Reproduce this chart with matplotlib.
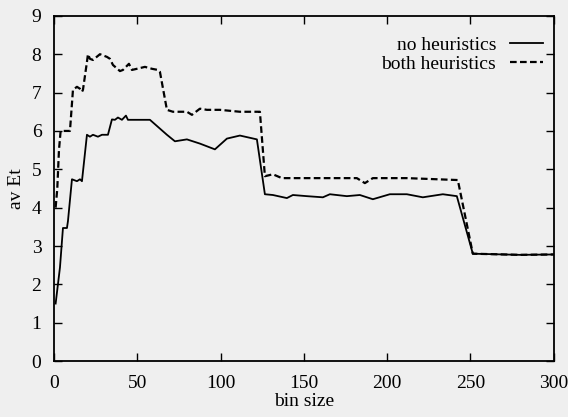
import matplotlib
matplotlib.use('Agg')
import matplotlib.pyplot as plt

# no heuristics (solid)
x_none = [1, 3.6, 5.4, 7.8, 8.4, 10.8, 13.8, 15.6, 16.8, 19.8, 21.6, 23.4, 26.4, 28.8, 32.4,
          34.8, 36.6, 38.4, 40.8, 43.2, 44.4, 49.8, 57.6, 67.8, 72.6, 79.8, 87.6, 96.6, 103.8,
          111.6, 121.8, 126.6, 131.4, 139.8, 143.4, 151.8, 161.4, 165.6, 175.8, 183.6, 191.4,
          201.6, 211.8, 221.4, 233.4, 241.8, 251.4, 279.6, 300]
y_none = [1.5, 2.44, 3.47, 3.47, 3.65, 4.74, 4.69, 4.74, 4.69, 5.9, 5.85, 5.9, 5.85, 5.9, 5.9,
          6.3, 6.29, 6.35, 6.29, 6.4, 6.29, 6.29, 6.29, 5.9, 5.73, 5.78, 5.67, 5.52, 5.8,
          5.88, 5.78, 4.35, 4.33, 4.25, 4.33, 4.3, 4.27, 4.35, 4.3, 4.33, 4.22,
          4.35, 4.35, 4.27, 4.35, 4.3, 2.8, 2.77, 2.78]

# both heuristics (dashed)
x_both = [1, 2, 3, 4, 9.6, 11.4, 13.8, 15.6, 16.8, 17.4, 19.8, 20.4, 21.6, 23.4, 27.6, 31.8,
          33.6, 35.4, 39.6, 41.4, 43.2, 45, 46.8, 49.8, 54.6, 58.8, 62.4, 63.6, 67.8, 71.4,
          79.8, 82.8, 87.6, 91.8, 99.6, 111.6, 123.6, 126.6, 131.4, 136.8, 159.6, 181.8,
          186.6, 191.4, 211.8, 242.4, 251.4, 279.6, 300]
y_both = [4.0, 4.5, 5.5, 6.0, 6.0, 7.07, 7.15, 7.1, 7.02, 7.07, 7.8, 8.0, 7.88, 7.85, 8.0, 7.93,
          7.88, 7.72, 7.56, 7.59, 7.67, 7.75, 7.59, 7.62, 7.67, 7.62, 7.59, 7.54, 6.55, 6.5,
          6.5, 6.42, 6.58, 6.55, 6.55, 6.5, 6.5, 4.82, 4.87, 4.77, 4.77, 4.77,
          4.64, 4.77, 4.77, 4.72, 2.8, 2.77, 2.78]

x_ticks = [0, 50, 100, 150, 200, 250, 300]
y_ticks = list(range(10))

plt.rcParams['font.family'] = ['Liberation Serif', 'DejaVu Serif']
plt.rcParams['font.size'] = 14

bg = '#efefef'
fig = plt.figure(figsize=(5.68, 4.17), dpi=100, facecolor=bg)
ax = fig.add_axes([0.095, 0.134, 0.88, 0.828], facecolor=bg)

ax.plot(x_none, y_none, color='black', linewidth=1.3, label='no heuristics')
ax.plot(x_both, y_both, color='black', linewidth=1.6, linestyle=(0, (3, 1.5)), label='both heuristics')

ax.set_xlim(0, 300)
ax.set_ylim(0, 9)
ax.set_xticks(x_ticks)
ax.set_yticks(y_ticks)
ax.tick_params(direction='in', length=6, width=1, top=True, right=True, labelsize=14)
ax.tick_params(axis='x', pad=10)
ax.tick_params(axis='y', pad=9)
for s in ax.spines.values():
    s.set_linewidth(1.3)

ax.set_xlabel('bin size', fontsize=14, labelpad=1)
ax.set_ylabel('av Et', fontsize=14, labelpad=5)

ax.legend(loc='upper right', bbox_to_anchor=(1.005, 0.98), frameon=False, markerfirst=False,
          handlelength=1.7, handletextpad=0.7, labelspacing=0.05, fontsize=14, borderpad=0.2)

fig.savefig('out.png', dpi=100, facecolor=bg)
